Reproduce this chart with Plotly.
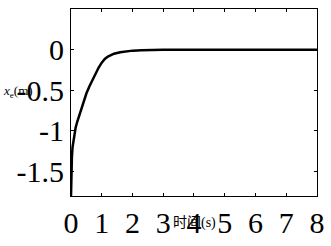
import plotly.graph_objects as go

t_vals = [0, 0.01, 0.03, 0.05, 0.1, 0.15, 0.2, 0.3, 0.4, 0.5, 0.6, 0.7, 0.8, 0.9, 1.0, 1.1, 1.2, 1.3, 1.4, 1.6, 1.8, 2.0, 2.3, 2.6, 3, 4, 5, 6, 7, 8]
x_vals = [-1.8, -1.55, -1.32, -1.2, -1.05, -0.96, -0.89, -0.77, -0.65, -0.54, -0.45, -0.37, -0.29, -0.22, -0.16, -0.115, -0.085, -0.065, -0.05, -0.032, -0.02, -0.012, -0.006, -0.003, 0, 0, 0, 0, 0, 0]

x_ticks = [0, 1, 2, 3, 4, 5, 6, 7, 8]
y_ticks = [0.5, 0, -0.5, -1, -1.5]

font_main = "Liberation Serif, DejaVu Serif, serif"
font_cjk = "Liberation Serif, DejaVu Serif, Noto Sans CJK SC, serif"


def serif(s):
    return "<span style='font-family:Liberation Serif, serif'>" + s + "</span>"


fig = go.Figure()
fig.add_trace(go.Scatter(x=t_vals, y=x_vals, mode="lines",
                         line=dict(color="black", width=2.5),
                         showlegend=False))

axis_common = dict(showgrid=False, zeroline=False, showline=True, linecolor="black",
                   linewidth=1, mirror="ticks", ticks="inside", ticklen=3,
                   tickcolor="black", tickfont=dict(family=font_main, size=30, color="black"))

fig.update_xaxes(range=[0, 8.001], tickvals=x_ticks, ticktext=[serif(str(v)) for v in x_ticks], **axis_common)
fig.update_yaxes(range=[-1.8, 0.5001], tickvals=y_ticks, ticktext=[serif(f"{v:g}") for v in y_ticks], **axis_common)

fig.add_annotation(text="<i>x</i><sub>e</sub>(m)", xref="paper", yref="paper",
                   x=-0.285, y=0.56, showarrow=False, xanchor="left",
                   font=dict(family=font_main, size=13, color="black"))
fig.add_annotation(text="时间(s)", xref="paper", yref="paper",
                   x=0.5, y=-0.145, showarrow=False, yanchor="middle",
                   font=dict(family=font_cjk, size=14, color="black"))

fig.update_layout(width=331, height=246, margin=dict(l=71, r=7, t=9, b=38),
                  plot_bgcolor="white", paper_bgcolor="white",
                  font=dict(family=font_main, size=13, color="black"))

fig.write_html("out.html", config={"displayModeBar": False},
               post_script="document.body.style.margin='0';document.body.style.overflow='hidden';")
